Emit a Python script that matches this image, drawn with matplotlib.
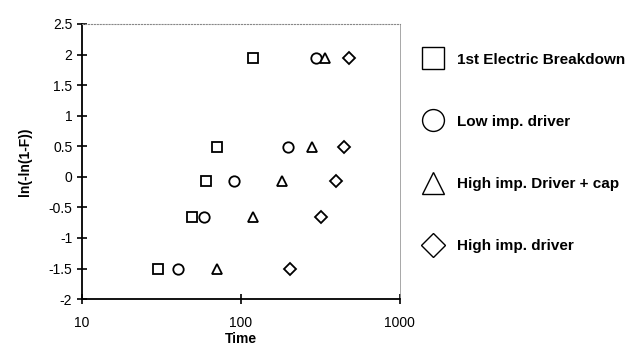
import matplotlib.pyplot as plt
import numpy as np

# y positions shared by all series
y_vals = [-1.5, -0.65, -0.07, 0.48, 1.95]

# failure times per series
t_first_breakdown = [30, 49, 60, 71, 119]
t_low_imp = [40, 59, 90, 198, 296]
t_high_imp_cap = [71, 120, 181, 280, 337]
t_high_imp = [203, 318, 395, 445, 477]

labels = ['1st Electric Breakdown', 'Low imp. driver',
          'High imp. Driver + cap', 'High imp. driver']
markers = ['s', 'o', '^', 'D']

plt.rcParams['font.family'] = ['Liberation Sans', 'DejaVu Sans']

fig = plt.figure(figsize=(6.38, 3.47), dpi=100)
ax = fig.add_axes([0.1285, 0.138, 0.498, 0.793])

series = [t_first_breakdown, t_low_imp, t_high_imp_cap, t_high_imp]
handles = []
for t, m, lab in zip(series, markers, labels):
    ms = 6 if m == 'D' else 7.5
    h, = ax.plot(t, y_vals, linestyle='none', marker=m, markersize=ms,
                 markerfacecolor='white', markeredgecolor='black',
                 markeredgewidth=1.3, label=lab)
    handles.append(h)

ax.set_xscale('log')
ax.set_xlim(10, 1000)
ax.set_ylim(-2, 2.5)
ax.set_yticks(np.arange(-2, 2.51, 0.5))
ax.set_yticklabels(['-2', '-1.5', '-1', '-0.5', '0', '0.5', '1', '1.5', '2', '2.5'])
ax.set_xticks([10, 100, 1000])
ax.set_xticklabels(['10', '100', '1000'])
ax.minorticks_off()
ax.tick_params(axis='both', direction='inout', length=7, width=1.2, labelsize=10)
ax.tick_params(axis='x', pad=9)

ax.spines['left'].set_linewidth(1.3)
ax.spines['bottom'].set_linewidth(1.3)
ax.spines['top'].set_color('#888888')
ax.spines['top'].set_linestyle(':')
ax.spines['right'].set_color('#999999')
ax.spines['right'].set_linewidth(0.6)

ax.set_xlabel('Time', fontsize=10, fontweight='bold')
ax.xaxis.set_label_coords(0.5, -0.118)
ax.set_ylabel('ln(-ln(1-F))', fontsize=10, fontweight='bold', labelpad=12)

leg = fig.legend(handles=handles, loc='upper left', bbox_to_anchor=(0.642, 0.888),
                 frameon=False, markerscale=2.1, labelspacing=3.15,
                 handletextpad=1.0, handlelength=1.2,
                 prop={'size': 11, 'weight': 'bold'})
for h in leg.legend_handles:
    h.set_markeredgewidth(1.0)

fig.savefig('out.png', dpi=100)
